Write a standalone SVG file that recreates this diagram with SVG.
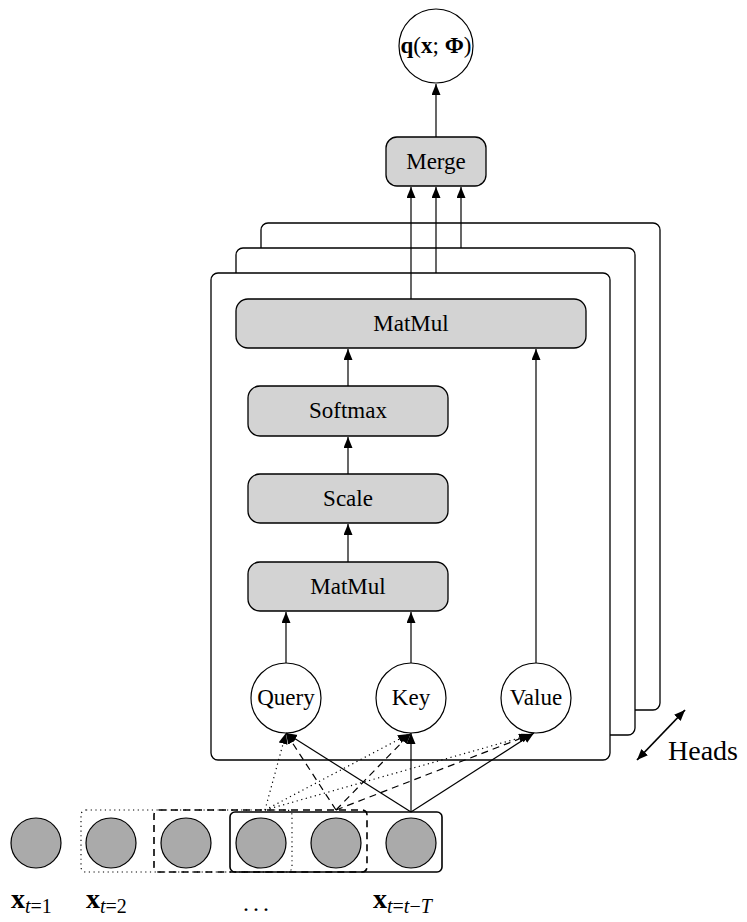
<svg xmlns="http://www.w3.org/2000/svg" width="747" height="922" viewBox="0 0 747 922">
<style>
text{font-family:"Liberation Serif","Times New Roman",serif;fill:#000}
.lbl{font-size:23px;text-anchor:middle;dominant-baseline:central}
.box{fill:#d3d3d3;stroke:#000;stroke-width:1.3}
.frame{fill:#fff;stroke:#000;stroke-width:1.3}
.circ{fill:#fff;stroke:#000;stroke-width:1.2}
.inp{fill:#aaaaaa;stroke:#000;stroke-width:1.2}
.ln{stroke:#000;stroke-width:1.2;fill:none;marker-end:url(#ah)}
.dot{stroke-dasharray:1.2 3.5}
.dash{stroke-dasharray:7 5}
.sub{font-size:20px}
</style>
<defs>
<marker id="ah" markerUnits="userSpaceOnUse" markerWidth="12" markerHeight="10" refX="11" refY="4.5" orient="auto-start-reverse">
<path d="M0,0 L11,4.5 L0,9 Z" fill="#000"/>
</marker>
</defs>

<g id="frame3"><rect class="frame" x="261" y="223" width="399" height="487" rx="7"/></g>
<g id="frame2"><rect class="frame" x="236" y="248" width="399" height="487" rx="7"/></g>
<g id="frame1"><rect class="frame" x="211" y="273" width="399" height="487" rx="7" stroke-width="1.6"/></g>

<g id="output"><circle class="circ" cx="436" cy="46" r="37"/>
<text x="436" y="53" font-size="23" text-anchor="middle"><tspan font-weight="bold">q</tspan>(<tspan font-weight="bold">x</tspan>; <tspan font-weight="bold">Φ</tspan>)</text></g>

<g id="merge"><rect class="box" x="386" y="137" width="100" height="49" rx="11"/><text class="lbl" x="436" y="161">Merge</text></g>

<g id="matmul_top"><rect class="box" x="236" y="299" width="350" height="49" rx="12"/><text class="lbl" x="411" y="323">MatMul</text></g>
<g id="softmax"><rect class="box" x="248" y="386" width="200" height="50" rx="12"/><text class="lbl" x="348" y="410">Softmax</text></g>
<g id="scale"><rect class="box" x="248" y="474" width="200" height="49" rx="12"/><text class="lbl" x="348" y="498">Scale</text></g>
<g id="matmul"><rect class="box" x="248" y="562" width="200" height="49" rx="12"/><text class="lbl" x="348" y="586">MatMul</text></g>

<g id="query"><circle class="circ" cx="286" cy="698" r="35"/><text class="lbl" x="286" y="697">Query</text></g>
<g id="key"><circle class="circ" cx="411" cy="698" r="35"/><text class="lbl" x="411" y="697">Key</text></g>
<g id="value"><circle class="circ" cx="536" cy="698" r="35"/><text class="lbl" x="536" y="697">Value</text></g>

<g id="windows" fill="none" stroke="#000">
<rect x="81" y="810" width="211" height="62" rx="5" stroke-width="1.1" stroke-dasharray="1.2 3.5"/>
<rect x="154" y="810" width="213" height="62" rx="5" stroke-width="1.6" stroke-dasharray="7 5"/>
<rect x="230" y="812" width="212" height="60" rx="5" stroke-width="1.6"/>
</g>

<g id="inputs">
<circle class="inp" cx="36" cy="843" r="25"/>
<circle class="inp" cx="111" cy="843" r="25"/>
<circle class="inp" cx="186" cy="843" r="25"/>
<circle class="inp" cx="261" cy="843" r="25"/>
<circle class="inp" cx="336" cy="843" r="25"/>
<circle class="inp" cx="411" cy="843" r="25"/>
</g>

<g id="connectors">
<line class="ln" x1="436" y1="137" x2="436" y2="84"/>
<line class="ln" x1="411" y1="299" x2="411" y2="187" stroke-width="1.8"/>
<line class="ln" x1="436" y1="273" x2="436" y2="187"/>
<line class="ln" x1="461" y1="248" x2="461" y2="187"/>
<line class="ln" x1="348" y1="386" x2="348" y2="349"/>
<line class="ln" x1="348" y1="474" x2="348" y2="437"/>
<line class="ln" x1="348" y1="562" x2="348" y2="524"/>
<line class="ln" x1="286" y1="663" x2="286" y2="612"/>
<line class="ln" x1="411" y1="663" x2="411" y2="612"/>
<line class="ln" x1="536" y1="663" x2="536" y2="349"/>
<line class="ln" x1="411" y1="812" x2="286" y2="733"/>
<line class="ln" x1="411" y1="812" x2="411" y2="733"/>
<line class="ln" x1="411" y1="812" x2="534" y2="733"/>
<line class="ln dash" x1="336" y1="810" x2="286" y2="733"/>
<line class="ln dash" x1="336" y1="810" x2="411" y2="733"/>
<line class="ln dash" x1="336" y1="810" x2="532" y2="734"/>
<line class="ln dot" x1="265" y1="810" x2="286" y2="733"/>
<line class="ln dot" x1="265" y1="810" x2="409" y2="734"/>
<line class="ln dot" x1="265" y1="810" x2="530" y2="735"/>
<line x1="637" y1="760" x2="685" y2="710" stroke="#000" stroke-width="1.8" marker-end="url(#ah)" marker-start="url(#ah)"/>
</g>

<g id="labels">
<text x="668" y="760" font-size="28">Heads</text>
<text x="11" y="908"><tspan font-weight="bold" font-size="28">x</tspan><tspan class="sub" dy="5" font-style="italic">t</tspan><tspan class="sub">=1</tspan></text>
<text x="86" y="908"><tspan font-weight="bold" font-size="28">x</tspan><tspan class="sub" dy="5" font-style="italic">t</tspan><tspan class="sub">=2</tspan></text>
<text x="243" y="911" font-size="24" letter-spacing="4">...</text>
<text x="373" y="908"><tspan font-weight="bold" font-size="28">x</tspan><tspan class="sub" dy="5" font-style="italic">t</tspan><tspan class="sub">=</tspan><tspan class="sub" font-style="italic">t</tspan><tspan class="sub">−</tspan><tspan class="sub" font-style="italic">T</tspan></text>
</g>
</svg>
